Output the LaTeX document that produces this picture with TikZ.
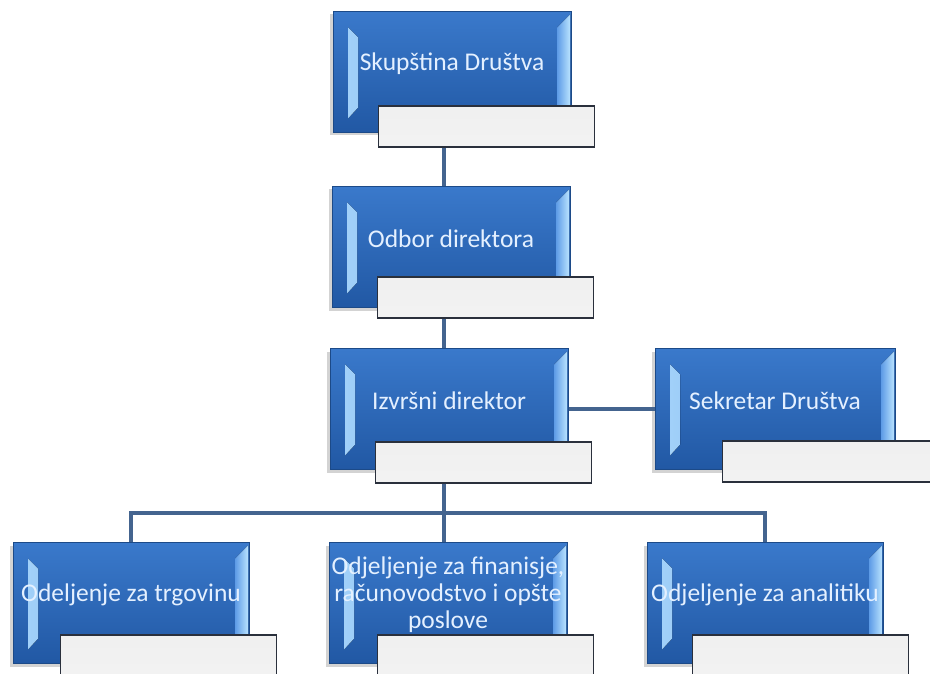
\documentclass[tikz,border=0pt]{standalone}
\usepackage{fontspec}
\setmainfont{Carlito}
\usetikzlibrary{shadows}

\definecolor{boxtop}{HTML}{3A79CB}
\definecolor{boxbot}{HTML}{2158A4}
\definecolor{boxedge}{HTML}{1C4A88}
\definecolor{bevin}{HTML}{5D9BE6}
\definecolor{bevout}{HTML}{B8E2FF}
\definecolor{slotedge}{HTML}{2A303C}
\definecolor{linkcol}{HTML}{44648F}
\definecolor{captcol}{HTML}{E4F0FF}

\begin{document}
\begin{tikzpicture}[
	x = 1pt,
	y = -1pt,
	caption/.style = {
		text = captcol,
		font = \fontsize{25.5}{27}\selectfont,
		align = center,
		inner sep = 0pt,
		yshift = 8pt
	},
	unit/.style = {
		draw = boxedge,
		line width = 1pt,
		top color = boxtop,
		bottom color = boxbot,
		minimum width = 238pt,
		minimum height = 121pt,
		inner sep = 0pt,
		drop shadow = {shadow xshift = -3pt, shadow yshift = -3pt, opacity = .35},
		path picture = {
			\fill[left color = bevout!80!bevin, right color = bevin]
				([shift = {(15pt,-16pt)}]path picture bounding box.north west)
				-- ([shift = {(25pt,-26pt)}]path picture bounding box.north west)
				-- ([shift = {(25pt,25pt)}]path picture bounding box.south west)
				-- ([shift = {(15pt,14pt)}]path picture bounding box.south west) -- cycle;
			\fill[left color = bevin, right color = bevout]
				([shift = {(-1pt,-3pt)}]path picture bounding box.north east)
				-- ([shift = {(-14pt,-16pt)}]path picture bounding box.north east)
				-- ([shift = {(-14pt,16pt)}]path picture bounding box.south east)
				-- ([shift = {(-1pt,3pt)}]path picture bounding box.south east) -- cycle;
		},
		label = {[caption]center:#1}
	},
	slot/.style = {
		draw = slotedge,
		line width = 1.6pt,
		top color = white!94!black,
		middle color = white,
		bottom color = white!95!black,
		minimum width = #1,
		minimum height = 41pt,
		inner sep = 0pt
	},
	slot/.default = 216pt,
	link/.style = {
		draw = linkcol,
		line width = 4.5pt
	}
	]
	\useasboundingbox (0,0) rectangle (930,674);
	\coordinate (trunk) at (444,0);
	\coordinate (bus) at (0,513);

	\node[unit = {Skupština Društva}] (skup) at (452,72) {};
	\node[slot, anchor = north west] (skup-slot) at ([shift = {(45pt,-94pt)}]skup.north west) {};

	\node[unit = {Odbor direktora}] (odbor) at (451,247) {};
	\node[slot, anchor = north west] (odbor-slot) at ([shift = {(45pt,-90pt)}]odbor.north west) {};

	\node[unit = {Izvršni direktor}] (izvrs) at (449,409) {};
	\node[slot, anchor = north west] (izvrs-slot) at ([shift = {(45pt,-93pt)}]izvrs.north west) {};

	\node[unit = {Sekretar Društva}, minimum width = 240pt] (sekr) at (775,409) {};
	\node[slot = 218pt, anchor = north west] (sekr-slot) at ([shift = {(67pt,-92pt)}]sekr.north west) {};

	\node[unit = {Odeljenje za trgovinu}, minimum width = 236pt] (trg) at (131,603) {};
	\node[slot, anchor = north west] (trg-slot) at ([shift = {(47pt,-92pt)}]trg.north west) {};

	\node[unit = {Odjeljenje za finanisje,\\računovodstvo i opšte\\poslove}] (fin) at (448,603) {};
	\node[slot, anchor = north west] (fin-slot) at ([shift = {(48pt,-92pt)}]fin.north west) {};

	\node[unit = {Odjeljenje za analitiku}, minimum width = 236pt] (anal) at (765,603) {};
	\node[slot, anchor = north west] (anal-slot) at ([shift = {(45pt,-92pt)}]anal.north west) {};

	\draw[link] (skup-slot.south -| trunk) -- (odbor.north -| trunk);
	\draw[link] (odbor-slot.south -| trunk) -- (izvrs.north -| trunk);
	\draw[link] (izvrs.east) -- (izvrs.east -| sekr.west);
	\draw[link] (izvrs-slot.south -| trunk) -- (fin.north -| trunk);
	\draw[link] (trg.north) |- (bus -| trunk) -| (anal.north);
\end{tikzpicture}
\end{document}
